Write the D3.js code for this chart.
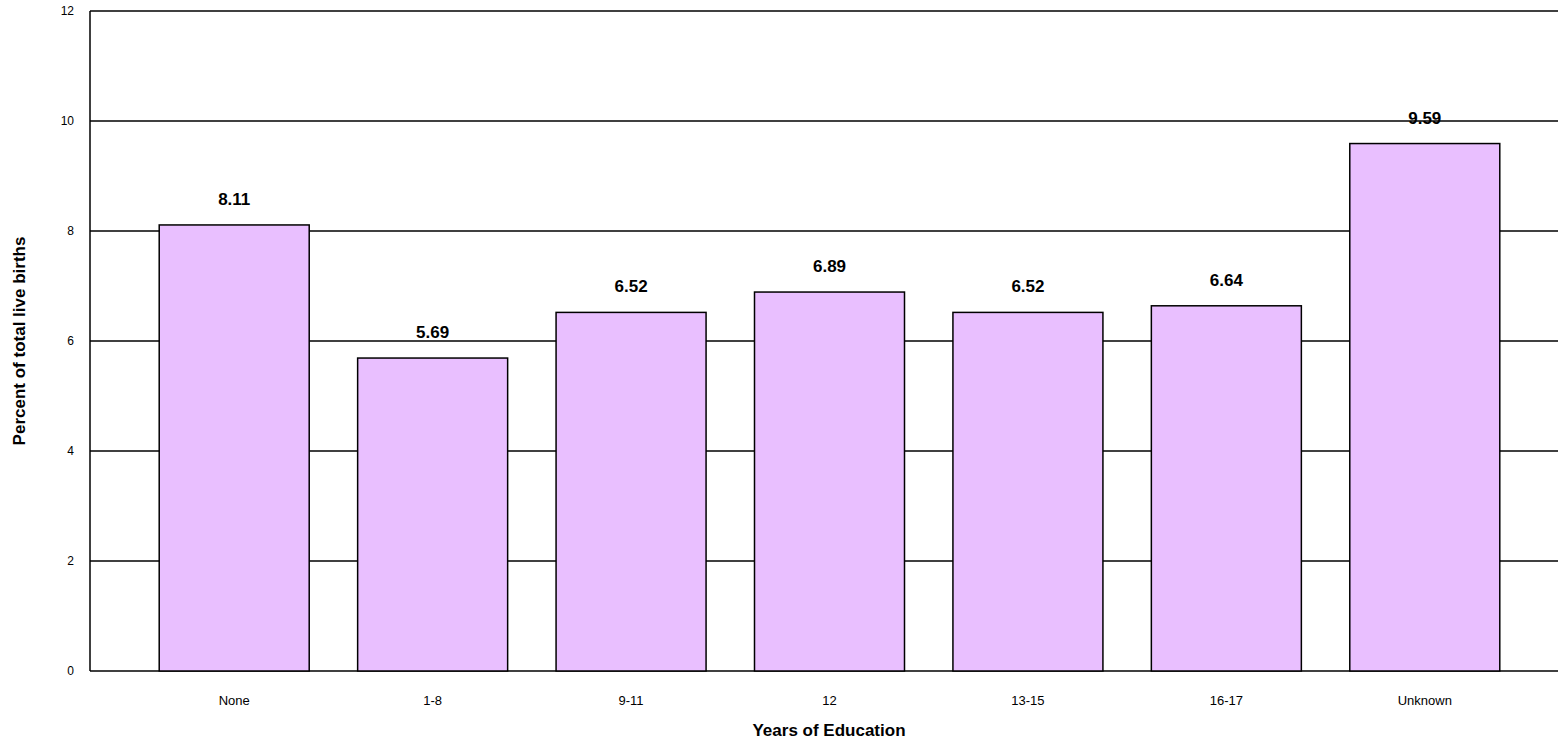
<!DOCTYPE html>
<html><head><meta charset="utf-8">
<script src="https://cdn.jsdelivr.net/npm/d3@7"></script>
<style>body{margin:0;background:#fff}svg{font-family:"Liberation Sans",Arial,sans-serif}</style>
</head><body>
<script>
var categories = ["None", "1-8", "9-11", "12", "13-15", "16-17", "Unknown"];
var values = [8.11, 5.69, 6.52, 6.89, 6.52, 6.64, 9.59];
var yTicks = [0, 2, 4, 6, 8, 10, 12];

var svg = d3.select("body").append("svg").attr("width", 1558).attr("height", 742);

var x = d3.scaleBand().domain(categories).range([135, 1524]).paddingInner(0.244).paddingOuter(0.122);
var y = d3.scaleLinear().domain([0, 12]).range([671, 11]);

svg.selectAll("line.grid").data(yTicks).enter().append("line")
    .attr("x1", 90).attr("x2", 1558)
    .attr("y1", function(d){ return y(d); }).attr("y2", function(d){ return y(d); })
    .attr("stroke", "#000").attr("stroke-width", 1.5);

svg.append("line").attr("x1", 90).attr("x2", 90).attr("y1", 11).attr("y2", 671)
    .attr("stroke", "#000").attr("stroke-width", 1.5);

svg.selectAll("text.tick").data(yTicks).enter().append("text")
    .attr("x", 74).attr("y", function(d){ return y(d) + 4; })
    .attr("text-anchor", "end").attr("font-size", 12).text(function(d){ return d; });

var bw = 150;
svg.selectAll("rect.bar").data(values).enter().append("rect")
    .attr("x", function(d, i){ return x(categories[i]) + x.bandwidth()/2 - bw/2; })
    .attr("y", function(d){ return y(d); })
    .attr("width", bw)
    .attr("height", function(d){ return y(0) - y(d); })
    .attr("fill", "#e9bfff").attr("stroke", "#000").attr("stroke-width", 1.5);

svg.selectAll("text.val").data(values).enter().append("text")
    .attr("x", function(d, i){ return x(categories[i]) + x.bandwidth()/2; })
    .attr("y", function(d){ return y(d) - 20; })
    .attr("text-anchor", "middle").attr("font-size", 17).attr("font-weight", "bold")
    .text(function(d){ return d.toFixed(2); });

svg.selectAll("text.cat").data(categories).enter().append("text")
    .attr("x", function(d){ return x(d) + x.bandwidth()/2; })
    .attr("y", 705).attr("text-anchor", "middle").attr("font-size", 13).text(function(d){ return d; });

svg.append("text").attr("x", 829).attr("y", 736).attr("text-anchor", "middle")
    .attr("font-size", 17).attr("font-weight", "bold").text("Years of Education");

svg.append("text").attr("transform", "translate(25,341) rotate(-90)").attr("text-anchor", "middle")
    .attr("font-size", 17).attr("font-weight", "bold").text("Percent of total live births");
</script>
</body></html>
